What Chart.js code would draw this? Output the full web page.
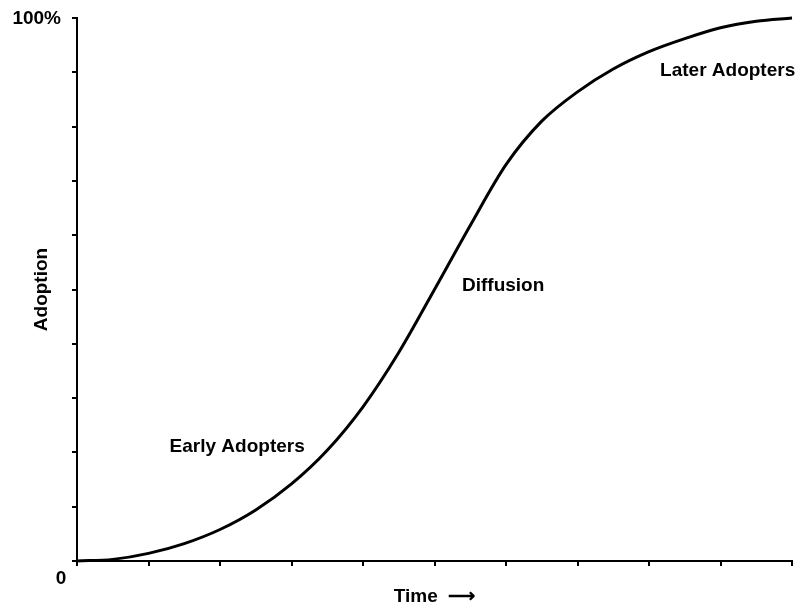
<!DOCTYPE html>
<html>
<head>
<meta charset="utf-8">
<script src="https://cdn.jsdelivr.net/npm/chart.js@4"></script>
<style>
  body { margin: 0; background: #fff; }
</style>
</head>
<body>
<canvas id="myChart" width="807" height="608"></canvas>
<script>
// time steps (half units) and share of adopters in %
const timeVals = [0, 0.5, 1, 1.5, 2, 2.5, 3, 3.5, 4, 4.5, 5, 5.5, 6, 6.5, 7, 7.5, 8, 8.5, 9, 9.5, 10]
const adoptionVals = [0, 0.3, 1.4, 3.2, 5.8, 9.4, 14.2, 20.4, 28.4, 38.4, 50.0, 61.8, 73.0, 81.0, 86.4, 90.6, 93.8, 96.2, 98.2, 99.4, 100]

// stage labels, placed in data units (time, adoption)
const stageNames = ["Early Adopters", "Diffusion", "Later Adopters"]
const stageTime = [2.24, 5.96, 9.1]
const stageAdoption = [21, 50.6, 90.2]

const yEndLabels = ["0", "100%"]

const FONT = '"Liberation Sans", Arial, Helvetica, sans-serif'

const points = timeVals.map((t, i) => ({x: t, y: adoptionVals[i]}))

const labelPlugin = {
	id: 'labels',
	afterDraw(chart) {
		const ctx = chart.ctx
		const xs = chart.scales.x
		const ys = chart.scales.y
		ctx.save()
		ctx.fillStyle = '#000'
		ctx.font = 'bold 19px ' + FONT
		ctx.textAlign = 'center'
		ctx.textBaseline = 'middle'
		stageNames.map((name, i) => {
			ctx.fillText(name, xs.getPixelForValue(stageTime[i]), ys.getPixelForValue(stageAdoption[i]))
		})
		// axis end labels
		ctx.textAlign = 'right'
		ctx.fillText(yEndLabels[1], xs.left - 16, ys.getPixelForValue(100) + 1)
		ctx.textAlign = 'center'
		ctx.fillText(yEndLabels[0], xs.left - 16, ys.bottom + 18)
		ctx.restore()
	}
}

let chart1 = new Chart(document.getElementById("myChart").getContext('2d'), {
	type: "line",
	data: {
		datasets: [{
			data: points,
			borderColor: '#000',
			borderWidth: 3,
			pointRadius: 0,
			cubicInterpolationMode: 'monotone',
			fill: false,
			clip: 6
		}]
	},
	options: {
		responsive: false,
		animation: false,
		layout: {
			padding: {left: 0, right: 15, top: 18, bottom: 0}
		},
		plugins: {
			legend: {display: false},
			tooltip: {enabled: false}
		},
		scales: {
			x: {
				type: 'linear',
				min: 0,
				max: 10,
				ticks: {stepSize: 1, display: false},
				grid: {drawOnChartArea: false, drawTicks: true, tickLength: 5, color: '#000', lineWidth: 2},
				border: {color: '#000', width: 2},
				title: {
					display: true,
					text: 'Time  \u27F6',
					color: '#000',
					font: {family: FONT, size: 19, weight: 'bold'},
					padding: {top: 0, bottom: 0}
				},
				afterFit: (scale) => { scale.height = 47 }
			},
			y: {
				min: 0,
				max: 100,
				ticks: {stepSize: 10, display: false},
				grid: {drawOnChartArea: false, drawTicks: true, tickLength: 5, color: '#000', lineWidth: 2},
				border: {color: '#000', width: 2},
				title: {
					display: true,
					text: 'Adoption',
					color: '#000',
					font: {family: FONT, size: 19, weight: 'bold'},
					padding: {top: 30, bottom: 0}
				},
				afterFit: (scale) => { scale.width = 77 }
			}
		}
	},
	plugins: [labelPlugin]
})
</script>
</body>
</html>
